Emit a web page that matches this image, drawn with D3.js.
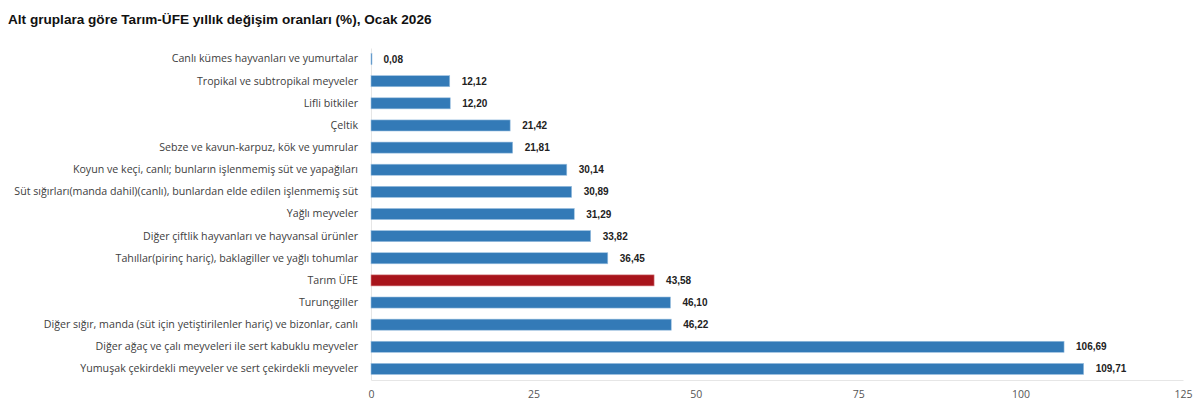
<!DOCTYPE html>
<html>
<head>
<meta charset="utf-8">
<script src="https://cdn.jsdelivr.net/npm/d3@7"></script>
<style>
  body { margin: 0; background: #fff; }
  svg { display: block; }
</style>
</head>
<body>
<svg id="canvas" width="1200" height="415"></svg>
<script>
// ************************************************************************************************** //
// Data

var categories = [
  'Canlı kümes hayvanları ve yumurtalar',
  'Tropikal ve subtropikal meyveler',
  'Lifli bitkiler',
  'Çeltik',
  'Sebze ve kavun-karpuz, kök ve yumrular',
  'Koyun ve keçi, canlı; bunların işlenmemiş süt ve yapağıları',
  'Süt sığırları(manda dahil)(canlı), bunlardan elde edilen işlenmemiş süt',
  'Yağlı meyveler',
  'Diğer çiftlik hayvanları ve hayvansal ürünler',
  'Tahıllar(pirinç hariç), baklagiller ve yağlı tohumlar',
  'Tarım ÜFE',
  'Turunçgiller',
  'Diğer sığır, manda (süt için yetiştirilenler hariç) ve bizonlar, canlı',
  'Diğer ağaç ve çalı meyveleri ile sert kabuklu meyveler',
  'Yumuşak çekirdekli meyveler ve sert çekirdekli meyveler'
];
var values = [0.08, 12.12, 12.20, 21.42, 21.81, 30.14, 30.89, 31.29, 33.82, 36.45, 43.58, 46.10, 46.22, 106.69, 109.71];
var xTicks = [0, 25, 50, 75, 100, 125];
var highlight = 'Tarım ÜFE';

var title = 'Alt gruplara göre Tarım-ÜFE yıllık değişim oranları (%), Ocak 2026';

// ************************************************************************************************** //
// Scales

var svg = d3.select('#canvas');
var plotLeft = 371, plotRight = 1183, plotTop = 48, plotBottom = 380;

var xScale = d3.scaleLinear().domain([0, 125]).range([plotLeft, plotRight]);
var yScale = d3.scaleBand().domain(categories).range([plotTop, plotBottom]).paddingInner(0.5).paddingOuter(0.25);

var fmt = function(v){ return d3.format('.2f')(v).replace('.', ','); };

// ************************************************************************************************** //
// Title

svg.append('text')
  .attr('x', 8).attr('y', 24)
  .style('font-family', '"Liberation Sans", Arial, sans-serif')
  .style('font-weight', 'bold').style('font-size', '13.6px').style('fill', '#111')
  .text(title);

// ************************************************************************************************** //
// Axes

var xAxis = svg.append('g')
  .attr('transform', 'translate(0,' + plotBottom + ')')
  .call(d3.axisBottom(xScale).tickValues(xTicks).tickSize(0).tickPadding(11));
xAxis.select('.domain').attr('stroke', '#e6e6e6');
xAxis.selectAll('text')
  .style('font-family', '"Open Sans", sans-serif').style('font-size', '10.5px').style('fill', '#555');

var yAxis = svg.append('g')
  .attr('transform', 'translate(' + plotLeft + ',0)')
  .call(d3.axisLeft(yScale).tickSize(0).tickPadding(13));
yAxis.select('.domain').attr('stroke', '#e6e6e6');
yAxis.selectAll('text')
  .style('font-family', '"Open Sans", sans-serif').style('font-size', '10.65px').style('fill', '#404040');

// ************************************************************************************************** //
// Bars

svg.append('g').selectAll('rect')
  .data(categories)
  .join('rect')
  .attr('x', xScale(0))
  .attr('y', function(d){ return yScale(d); })
  .attr('width', function(d, i){ return Math.max(1, xScale(values[i]) - xScale(0)); })
  .attr('height', yScale.bandwidth())
  .attr('fill', function(d){ return d === highlight ? '#a8141b' : '#337ab7'; })
  .attr('stroke', function(d){ return d === highlight ? '#d98a8d' : '#9cc0e0'; })
  .attr('stroke-width', 0.6);

// ************************************************************************************************** //
// Value labels

svg.append('g').selectAll('text')
  .data(categories)
  .join('text')
  .attr('x', function(d, i){ return xScale(values[i]) + 12; })
  .attr('y', function(d){ return yScale(d) + yScale.bandwidth() / 2; })
  .attr('dy', '0.35em')
  .style('font-family', '"Liberation Sans", Arial, sans-serif')
  .style('font-weight', 'bold').style('font-size', '10px').style('fill', '#222')
  .text(function(d, i){ return fmt(values[i]); });
</script>
</body>
</html>
